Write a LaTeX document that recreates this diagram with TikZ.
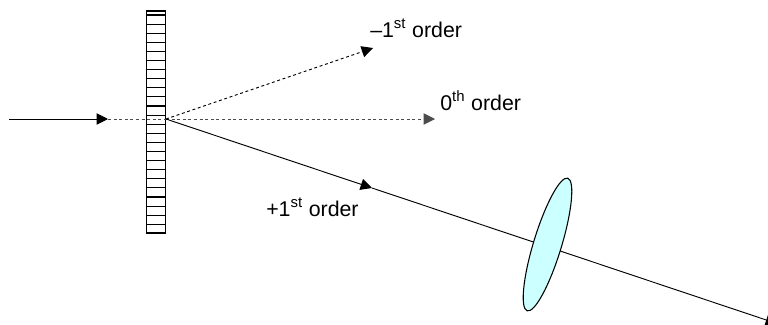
\documentclass[tikz,border=0pt]{standalone}
\usepackage{fontspec}
\setmainfont{Liberation Sans}
\usetikzlibrary{arrows.meta,shapes.geometric}
\definecolor{lensblue}{HTML}{CCFFFF}
\tikzset{
  every node/.style={font=\fontsize{16}{18}\selectfont},
  beam/.style={line width=0.7pt},
  dotbeam/.style={line width=0.7pt,dash pattern=on 2.2pt off 2pt,black!70},
  label/.style={anchor=base west,inner sep=0pt},
}
\begin{document}
\begin{tikzpicture}[x=0.75pt,y=-0.75pt,>={Triangle[length=8.5pt,width=8.5pt]}]
\useasboundingbox (0,0) rectangle (768,325);
\coordinate (src) at (9,119);
\coordinate (in) at (108,119);
\coordinate (hit) at (166,119);
\coordinate (minus) at (373,48);
\coordinate (zero) at (435,119);
\coordinate (plusmid) at (372,188);
\coordinate (plusend) at (777,323.6);
% grating
\node[draw,line width=1.1pt,rectangle,minimum width=14.6pt,minimum height=166.5pt,inner sep=0pt,fill=white] (grating) at (156,122) {};
\foreach \y in {0,...,23}
  \draw[line width=0.8pt] (146,15+\y*9.1) -- (166,15+\y*9.1);
% beams
\draw[beam,->] (src) -- (in);
\draw[dotbeam] (in) -- (hit);
\draw[dotbeam,black,->] (hit) -- (minus);
\draw[dotbeam,->] (hit) -- (zero);
\draw[beam,->] (hit) -- (plusmid);
\draw[beam,->] (plusmid) -- (plusend);
% lens
\node[draw,ellipse,line width=0.8pt,fill=lensblue,minimum width=104pt,minimum height=21pt,inner sep=0pt,rotate=73] (lens) at (547.5,244.5) {};
% labels
\node[label] (lminus) at (370,37) {--1\textsuperscript{st} order};
\node[label] (lzero) at (440,110) {0\textsuperscript{th} order};
\node[label] (lplus) at (266,216) {+1\textsuperscript{st} order};
\end{tikzpicture}
\end{document}
